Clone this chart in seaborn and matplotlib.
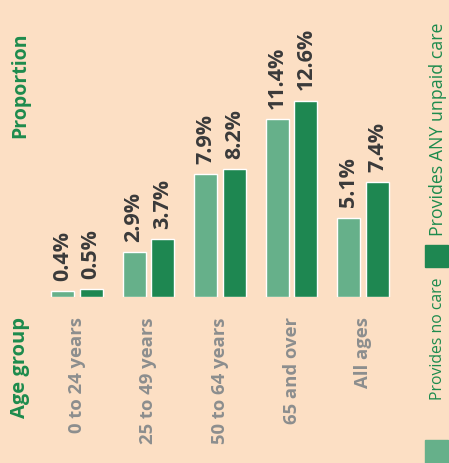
import matplotlib
matplotlib.use("Agg")
import matplotlib.pyplot as plt
from matplotlib.patches import Rectangle
import pandas as pd
import seaborn as sns

age_groups = ["0 to 24 years", "25 to 49 years", "50 to 64 years", "65 and over", "All ages"]
no_care = [0.4, 2.9, 7.9, 11.4, 5.1]
any_care = [0.5, 3.7, 8.2, 12.6, 7.4]
series = ["Provides no care", "Provides ANY unpaid care"]

bg = "#FCDFC4"
colors = ["#66B08A", "#1E8751"]
green_txt = "#1D8B4D"

df = pd.DataFrame({
    "age": age_groups * 2,
    "value": no_care + any_care,
    "care": [series[0]] * len(age_groups) + [series[1]] * len(age_groups),
})

sns.set_style("white")
plt.rcParams["font.family"] = ["Open Sans", "DejaVu Sans"]

W, H = 449, 464
fig = plt.figure(figsize=(W / 100, H / 100), dpi=100, facecolor=bg)
# axes placed in pixel terms: x 41..399, y 33..298 (from top)
ax = fig.add_axes([41 / W, (H - 298) / H, 358 / W, 265 / H])
ax.set_facecolor(bg)

sns.barplot(data=df, x="age", y="value", hue="care", hue_order=series,
            palette=colors, width=0.8, gap=0.2, saturation=1, ax=ax, legend=False)

for cont in ax.containers:
    ax.bar_label(cont, fmt="{:.1f}%", rotation=90, padding=8,
                 fontsize=15.5, fontweight="bold", color="#3A3A3A")

ax.set_xlim(-0.5, len(age_groups) - 0.5)
ax.set_ylim(0, 17)
ax.set_yticks([])
ax.set_xlabel("")
ax.set_ylabel("")
ax.tick_params(axis="x", length=0, pad=14)
ax.set_xticks(range(len(age_groups)))
ax.set_xticklabels(age_groups, rotation=90, fontsize=13.3, fontweight="bold", color="#8C8E8E")
sns.despine(ax=ax, left=True, bottom=True)

# rotated axis titles
fig.text(20 / W, 1 - 33 / H, "Proportion", rotation=90, ha="center", va="top",
         fontsize=14, fontweight="bold", color=green_txt)
fig.text(20 / W, 1 - 317 / H, "Age group", rotation=90, ha="center", va="top",
         fontsize=14.5, fontweight="bold", color=green_txt)

# rotated legend on the right side
fig.add_artist(Rectangle((425 / W, 1 - 268 / H), 23 / W, 22 / H,
                         transform=fig.transFigure, color=colors[1]))
fig.text(438 / W, 1 - 236 / H, series[1], rotation=90, ha="center", va="bottom",
         fontsize=12.8, color=green_txt)
fig.add_artist(Rectangle((425 / W, 1 - 464 / H), 23 / W, 23 / H,
                         transform=fig.transFigure, color=colors[0]))
fig.text(438 / W, 1 - 400 / H, series[0], rotation=90, ha="center", va="bottom",
         fontsize=11.3, color=green_txt)

fig.savefig("out.png", dpi=100, facecolor=bg)
